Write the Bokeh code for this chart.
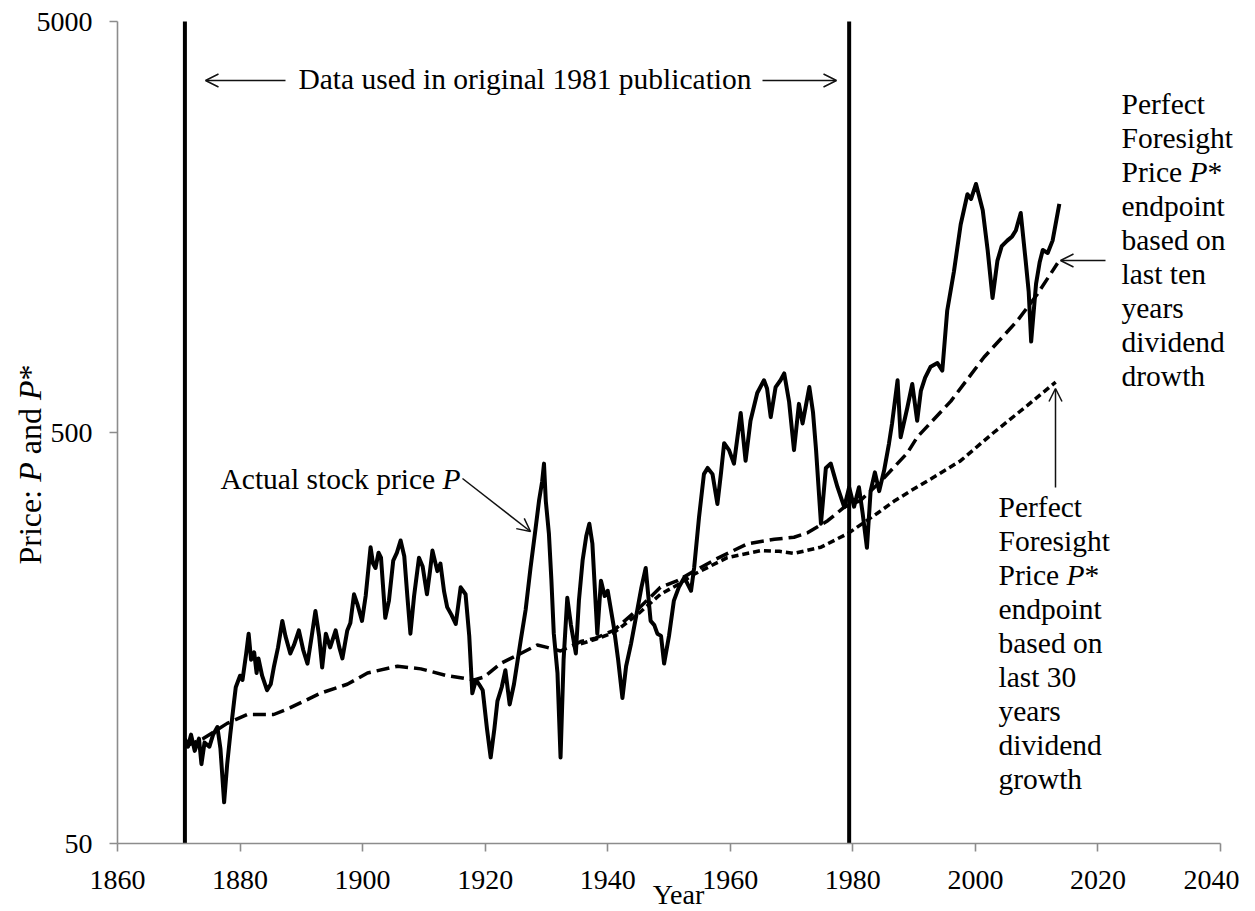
import math
from bokeh.plotting import figure
from bokeh.models import (Range1d, FixedTicker, Label, Arrow, OpenHead,
                          NumeralTickFormatter)
from bokeh.embed import file_html
from bokeh.resources import INLINE

# ---------------- data ----------------
years_p = [1871.0, 1871.5, 1872.0, 1872.6, 1873.3, 1873.7, 1874.2, 1875.0, 1875.6, 1876.3,
           1876.8, 1877.4, 1877.9, 1878.4, 1879.0, 1879.3, 1880.0, 1880.4, 1881.0, 1881.4,
           1881.8, 1882.3, 1882.7, 1883.0, 1883.6, 1884.4, 1885.0, 1885.5, 1886.2, 1886.9,
           1887.4, 1888.2, 1888.8, 1889.6, 1890.3, 1891.0, 1891.7, 1892.3, 1892.9, 1893.4,
           1894.0, 1894.7, 1895.6, 1896.2, 1896.7, 1897.5, 1898.0, 1898.6, 1899.2, 1899.9,
           1900.5, 1901.3, 1901.7, 1902.1, 1902.6, 1903.0, 1903.7, 1904.3, 1905.0, 1905.6,
           1906.2, 1906.8, 1907.3, 1907.8, 1908.4, 1909.2, 1909.8, 1910.5, 1911.0, 1911.4,
           1912.2, 1912.7, 1913.3, 1913.8, 1914.5, 1915.2, 1916.0, 1916.8, 1917.4, 1917.9,
           1918.5, 1919.0, 1919.6, 1920.3, 1920.9, 1921.5, 1922.0, 1922.7, 1923.3, 1924.0,
           1924.7, 1925.8, 1926.6, 1927.4, 1928.2, 1928.8, 1929.3, 1929.6, 1929.9, 1930.4,
           1930.8, 1931.2, 1931.8, 1932.3, 1932.8, 1933.4, 1934.0, 1934.8, 1935.3, 1935.9,
           1936.5, 1937.0, 1937.5, 1938.3, 1938.9, 1939.5, 1940.0, 1941.0, 1941.7, 1942.4,
           1943.0, 1943.8, 1944.8, 1945.5, 1946.2, 1947.0, 1947.6, 1948.1, 1948.7, 1949.2,
           1950.0, 1950.8, 1951.6, 1952.5, 1953.6, 1954.1, 1954.9, 1955.7, 1956.3, 1957.1,
           1957.9, 1958.5, 1959.0, 1959.8, 1960.6, 1961.7, 1962.5, 1963.3, 1964.4, 1965.5,
           1966.0, 1966.6, 1967.4, 1968.2, 1968.8, 1969.6, 1970.4, 1971.2, 1971.8, 1972.9,
           1973.5, 1974.0, 1974.8, 1975.6, 1976.4, 1977.5, 1978.6, 1979.4, 1980.2, 1981.0,
           1981.6, 1982.3, 1982.9, 1983.6, 1984.3, 1985.1, 1985.9, 1986.4, 1987.3, 1987.8,
           1988.9, 1989.7, 1990.5, 1991.1, 1991.8, 1992.7, 1993.8, 1994.6, 1995.4, 1996.5,
           1997.6, 1998.7, 1999.3, 2000.1, 2001.2, 2002.0, 2002.8, 2003.6, 2004.3, 2005.2,
           2006.0, 2006.6, 2007.4, 2008.2, 2008.7, 2009.1, 2009.9, 2010.5, 2011.0, 2011.8,
           2012.6, 2013.7]
price_p = [90, 86, 92, 84, 90, 78, 88, 86, 92, 96,
           85, 63, 78, 92, 110, 120, 128, 125, 145, 162,
           140, 146, 130, 141, 128, 118, 122, 134, 150, 174,
           160, 145, 152, 165, 148, 137, 160, 184, 160, 134,
           162, 150, 165, 150, 141, 165, 172, 202, 190, 174,
           200, 263, 240, 234, 255, 248, 177, 195, 244, 255,
           273, 250, 200, 162, 200, 248, 236, 202, 230, 258,
           230, 240, 205, 188, 180, 171, 210, 202, 160, 116,
           125, 122, 118, 95, 81, 95, 111, 120, 132, 109,
           122, 156, 185, 234, 290, 342, 380, 420, 340, 284,
           220, 162, 130, 81, 140, 198, 170, 145, 195, 244,
           280, 300, 268, 162, 218, 200, 206, 168, 140, 113,
           135, 153, 184, 210, 234, 174, 170, 162, 160, 137,
           160, 195, 210, 222, 206, 234, 311, 396, 410, 396,
           335, 400, 471, 453, 420, 558, 427, 534, 624, 670,
           640, 545, 645, 670, 696, 594, 453, 587, 526, 645,
           560, 453, 300, 410, 420, 368, 329, 368, 330, 368,
           318, 262, 360, 400, 360, 404, 470, 526, 670, 487,
           575, 656, 534, 631, 680, 723, 738, 707, 989, 1232,
           1603, 1900, 1850, 2012, 1736, 1390, 1062, 1310, 1420, 1465,
           1500, 1550, 1710, 1310, 1100, 832, 1150, 1300, 1390, 1367,
           1465, 1800]

years_pstar10 = [1871, 1874, 1877.9, 1881.2, 1885.5, 1888.2, 1893.1, 1897.5, 1900.8, 1905.7,
                 1909.5, 1913.8, 1918.2, 1919.8, 1922.5, 1925.8, 1928.5, 1930.1, 1932.3, 1935.6,
                 1938, 1941, 1944.8, 1948.6, 1951.4, 1954.1, 1957.9, 1962.8, 1967.2, 1970.4,
                 1972.6, 1975.9, 1978.6, 1981.3, 1984.6, 1988.9, 1990.5, 1996, 2001.4, 2006.9,
                 2010.1, 2013.4]
pstar10 = [86, 90, 98, 103, 103, 107, 116, 122, 130, 135,
           133, 128, 125, 127, 137, 145, 152, 150, 147, 155,
           158, 165, 185, 210, 218, 230, 247, 268, 275, 278,
           285, 305, 329, 342, 381, 446, 487, 596, 762, 937,
           1085, 1290]

years_pstar30 = [1935.6, 1938, 1941, 1944.8, 1948.6, 1951.4, 1954.1, 1959.5, 1965, 1968,
                 1970.4, 1974.8, 1979.2, 1984, 1986.7, 1989.5, 1993.3, 1997.6, 2003, 2008.5,
                 2013.1]
pstar30 = [153, 157, 163, 180, 202, 213, 226, 248, 258, 257,
           254, 263, 284, 318, 340, 361, 390, 427, 500, 582,
           663]

period_bounds = [1871, 1979.4]
x_ticks = [1860, 1880, 1900, 1920, 1940, 1960, 1980, 2000, 2020, 2040]
y_ticks = [50, 500, 5000]

note_10 = ["Perfect", "Foresight", "Price P*", "endpoint", "based on", "last ten",
           "years", "dividend", "drowth"]
note_30 = ["Perfect", "Foresight", "Price P*", "endpoint", "based on", "last 30",
           "years", "dividend", "growth"]

# ---------------- layout ----------------
W, H = 1239, 911
# where the axes sit on the canvas (pixels from top-left)
AX_L, AX_R, AX_T, AX_B = 117, 1220, 21, 843
FONT = "Liberation Serif"
ANN = "29.5px"
DY = 9  # svg baseline correction

x0, x1 = x_ticks[0], x_ticks[-1]
y0, y1 = y_ticks[0], y_ticks[-1]
KX = (AX_R - AX_L) / (x1 - x0)                 # px per year
KY = (AX_B - AX_T) / (math.log10(y1) - math.log10(y0))  # px per decade


def X(px):
    return x0 + (px - AX_L) / KX


def Y(py):
    return 10 ** (math.log10(y0) + (AX_B - py) / KY)


p = figure(width=W, height=H, x_range=Range1d(X(0), X(W)), y_range=Range1d(Y(H), Y(0)),
           y_axis_type="log", output_backend="svg", toolbar_location=None,
           min_border_left=0, min_border_right=0, min_border_top=0, min_border_bottom=0)
p.outline_line_color = None
p.xgrid.visible = False
p.ygrid.visible = False
p.background_fill_color = "white"
p.border_fill_color = "white"

for ax in (p.xaxis[0], p.yaxis[0]):
    ax.axis_line_color = "#8c8c8c"
    ax.axis_line_width = 1.6
    ax.major_tick_line_color = "#8c8c8c"
    ax.major_tick_line_width = 1.6
    ax.major_tick_out = 8
    ax.major_tick_in = 0
    ax.minor_tick_line_color = None
    ax.major_label_text_font = FONT
    ax.major_label_text_font_size = "28px"
    ax.major_label_text_color = "black"

p.xaxis.ticker = FixedTicker(ticks=x_ticks)
p.xaxis.bounds = (x0, x1)
p.xaxis.fixed_location = y0
p.xaxis.major_label_standoff = 19
p.yaxis.ticker = FixedTicker(ticks=y_ticks)
p.yaxis.formatter = NumeralTickFormatter(format="0")
p.yaxis.bounds = (y0, y1)
p.yaxis.fixed_location = x0
p.yaxis.major_label_standoff = 17

# ---------------- marks ----------------
p.segment(x0=period_bounds, x1=period_bounds, y0=[y0] * len(period_bounds),
          y1=[y1] * len(period_bounds), line_color="black", line_width=4)

p.line(years_pstar30, pstar30, line_color="black", line_width=3.5, line_dash="7 4")
p.line(years_pstar10, pstar10, line_color="black", line_width=3.5, line_dash="13 6")
p.line(years_p, price_p, line_color="black", line_width=4, line_join="round")


def label(px, py, text, size=ANN, style="normal", align="left", angle=0.0):
    # (px, py): where the text baseline starts on the canvas
    if angle == 0.0:
        py = py - DY
    else:
        px = px - DY
    p.add_layout(Label(x=X(px), y=Y(py), text=text, text_font=FONT, text_font_size=size,
                       text_font_style=style, text_align=align, text_baseline="alphabetic",
                       angle=angle, text_color="black"))


def arrow(xa, ya, xb, yb):
    p.add_layout(Arrow(end=OpenHead(size=13, line_width=1.5, line_color="#111111"),
                       x_start=X(xa), y_start=Y(ya), x_end=X(xb), y_end=Y(yb),
                       line_width=1.5, line_color="#111111"))


em = 29.5
# top annotation
label(524.5, 87, "Data used in original 1981 publication", align="center")
arrow(285, 80, 205, 80)
arrow(762, 80, 836, 80)

# actual price
label(220, 487, "Actual stock price")
label(220 + 7.526 * em, 487, "P", style="italic")
arrow(462, 478, 530, 531)


def note(px, py0, lines):
    for i, t in enumerate(lines):
        py = py0 + 34 * i
        if t == "Price P*":
            label(px, py, "Price")
            label(px + 2.305 * em, py, "P", style="italic")
            label(px + 2.916 * em, py, "*")
        else:
            label(px, py, t)


note(1121, 112, note_10)
arrow(1105, 260, 1060, 260)
note(998, 515, note_30)
arrow(1055, 487, 1055, 388)

# axis titles
e2 = 32.0
s0 = 564
rot = math.pi / 2
ys = "32px"
label(38, s0, "Price:", size=ys, angle=rot)
label(38, s0 - 2.583 * e2, "P", size=ys, style="italic", angle=rot)
label(38, s0 - (2.583 + 0.611 + 0.25) * e2, "and", size=ys, angle=rot)
label(38, s0 - (2.583 + 0.611 + 1.944) * e2, "P", size=ys, style="italic", angle=rot)
label(38, s0 - (2.583 + 0.611 + 1.944 + 0.611) * e2, "*", size=ys, angle=rot)
label(678, 903, "Year", size="28px", align="center")

open("out.html", "w").write(file_html(p, INLINE))
